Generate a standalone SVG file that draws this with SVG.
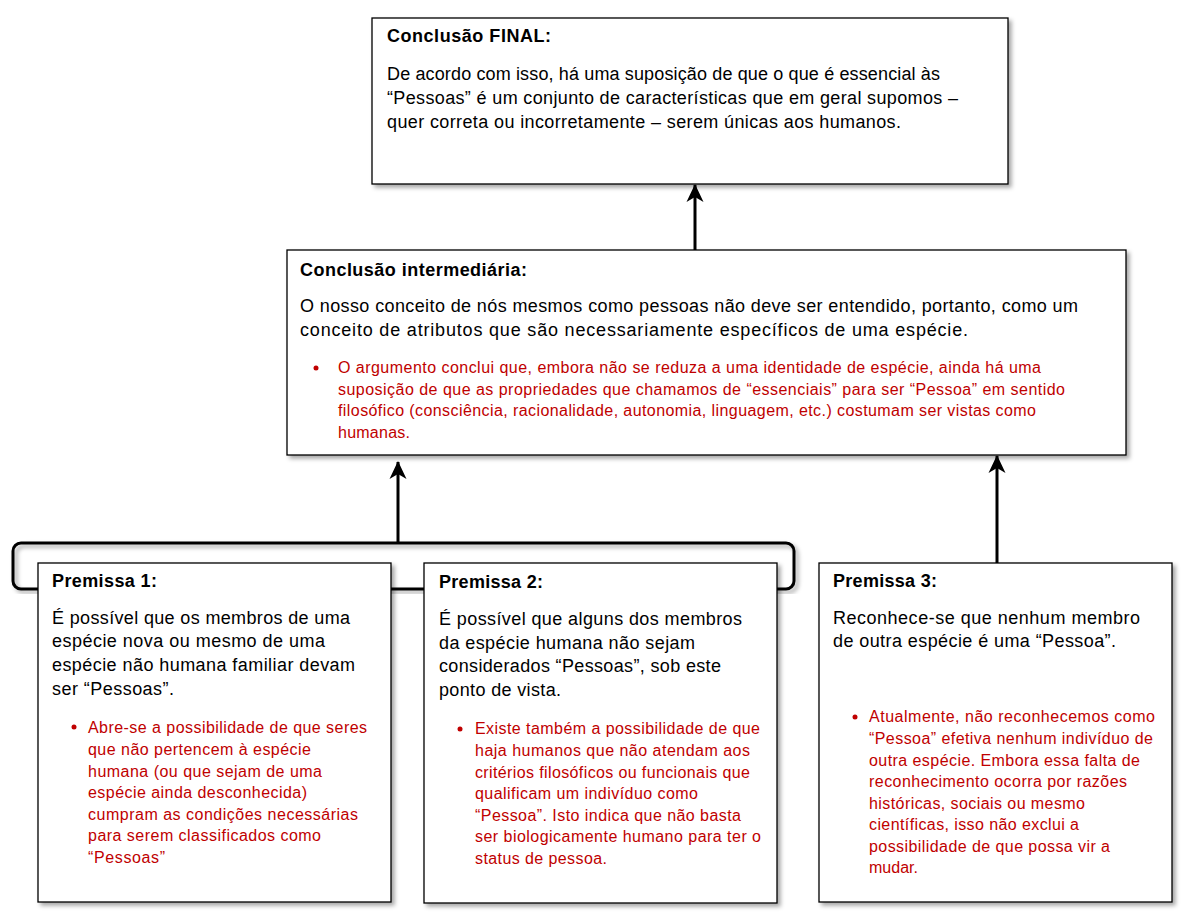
<svg xmlns="http://www.w3.org/2000/svg" width="1191" height="918" viewBox="0 0 1191 918">
<style>
text { font-family: "Liberation Sans", Arial, sans-serif; }
.box { fill: #ffffff; stroke: #000000; stroke-width: 1.3; filter: url(#shadow); }
.title { font-size: 18px; font-weight: bold; fill: #000000; }
.body { font-size: 18px; fill: #000000; }
.red { font-size: 16px; fill: #C00000; }
.dot { fill: #C00000; }
.conn { fill: none; stroke: #000000; stroke-width: 3; }
</style>
<defs>
<filter id="shadow" x="-10%" y="-10%" width="120%" height="120%">
<feDropShadow dx="3" dy="3" stdDeviation="2" flood-color="#000000" flood-opacity="0.35"/>
</filter>
<marker id="arrow" viewBox="0 0 18 18" refX="17" refY="9" markerWidth="18" markerHeight="18" markerUnits="userSpaceOnUse" orient="auto">
<path d="M0,0.5 L18,9 L0,17.5 L5,9 Z" fill="#000000"/>
</marker>
</defs>
<rect width="1191" height="918" fill="#ffffff"/>
<g id="connectors">
<rect class="conn" x="13" y="543" width="781" height="46" rx="8" ry="8" filter="url(#shadow)"/>
<line class="conn" x1="398" y1="543" x2="398" y2="462" marker-end="url(#arrow)"/>
<line class="conn" x1="695" y1="250" x2="695" y2="185" marker-end="url(#arrow)"/>
<line class="conn" x1="997" y1="563" x2="997" y2="456" marker-end="url(#arrow)"/>
</g>
<g id="conclusao-final">
<rect class="box" x="372" y="18" width="636" height="166"/>
<text class="title" x="387" y="42" textLength="164">Conclusão FINAL:</text>
<text class="body" x="387" y="80" textLength="553">De acordo com isso, há uma suposição de que o que é essencial às</text>
<text class="body" x="387" y="104" textLength="571">“Pessoas” é um conjunto de características que em geral supomos –</text>
<text class="body" x="387" y="128" textLength="514">quer correta ou incorretamente – serem únicas aos humanos.</text>
</g>
<g id="conclusao-intermediaria">
<rect class="box" x="287" y="250" width="839" height="205"/>
<text class="title" x="300" y="276" textLength="227">Conclusão intermediária:</text>
<text class="body" x="300" y="312" textLength="778">O nosso conceito de nós mesmos como pessoas não deve ser entendido, portanto, como um</text>
<text class="body" x="300" y="336" textLength="668">conceito de atributos que são necessariamente específicos de uma espécie.</text>
<circle class="dot" cx="316" cy="368" r="2.5"/>
<text class="red" x="338" y="373" textLength="703">O argumento conclui que, embora não se reduza a uma identidade de espécie, ainda há uma</text>
<text class="red" x="338" y="395" textLength="727">suposição de que as propriedades que chamamos de “essenciais” para ser “Pessoa” em sentido</text>
<text class="red" x="338" y="416" textLength="698">filosófico (consciência, racionalidade, autonomia, linguagem, etc.) costumam ser vistas como</text>
<text class="red" x="338" y="438" textLength="72">humanas.</text>
</g>
<g id="premissa-1">
<rect class="box" x="38" y="563" width="353" height="339"/>
<text class="title" x="52" y="587" textLength="105">Premissa 1:</text>
<text class="body" x="52" y="624" textLength="298">É possível que os membros de uma</text>
<text class="body" x="52" y="647" textLength="273">espécie nova ou mesmo de uma</text>
<text class="body" x="52" y="671" textLength="303">espécie não humana familiar devam</text>
<text class="body" x="52" y="695" textLength="122">ser “Pessoas”.</text>
<circle class="dot" cx="74" cy="727" r="2.5"/>
<text class="red" x="88" y="733" textLength="279">Abre-se a possibilidade de que seres</text>
<text class="red" x="88" y="755" textLength="223">que não pertencem à espécie</text>
<text class="red" x="88" y="777" textLength="234">humana (ou que sejam de uma</text>
<text class="red" x="88" y="798" textLength="219">espécie ainda desconhecida)</text>
<text class="red" x="88" y="820" textLength="270">cumpram as condições necessárias</text>
<text class="red" x="88" y="841" textLength="233">para serem classificados como</text>
<text class="red" x="88" y="863" textLength="77">“Pessoas”</text>
</g>
<g id="premissa-2">
<rect class="box" x="424" y="563" width="353" height="340"/>
<text class="title" x="439" y="588" textLength="104">Premissa 2:</text>
<text class="body" x="439" y="625" textLength="303">É possível que alguns dos membros</text>
<text class="body" x="439" y="649" textLength="256">da espécie humana não sejam</text>
<text class="body" x="439" y="672" textLength="282">considerados “Pessoas”, sob este</text>
<text class="body" x="439" y="696" textLength="122">ponto de vista.</text>
<circle class="dot" cx="460" cy="729" r="2.5"/>
<text class="red" x="475" y="734" textLength="285">Existe também a possibilidade de que</text>
<text class="red" x="475" y="756" textLength="275">haja humanos que não atendam aos</text>
<text class="red" x="475" y="778" textLength="275">critérios filosóficos ou funcionais que</text>
<text class="red" x="475" y="799" textLength="223">qualificam um indivíduo como</text>
<text class="red" x="475" y="821" textLength="266">“Pessoa”. Isto indica que não basta</text>
<text class="red" x="475" y="842" textLength="286">ser biologicamente humano para ter o</text>
<text class="red" x="475" y="864" textLength="132">status de pessoa.</text>
</g>
<g id="premissa-3">
<rect class="box" x="819" y="563" width="353" height="339"/>
<text class="title" x="833" y="587" textLength="104">Premissa 3:</text>
<text class="body" x="833" y="624" textLength="307">Reconhece-se que nenhum membro</text>
<text class="body" x="833" y="647" textLength="283">de outra espécie é uma “Pessoa”.</text>
<circle class="dot" cx="855" cy="717" r="2.5"/>
<text class="red" x="869" y="722" textLength="286">Atualmente, não reconhecemos como</text>
<text class="red" x="869" y="744" textLength="284">“Pessoa” efetiva nenhum indivíduo de</text>
<text class="red" x="869" y="766" textLength="271">outra espécie. Embora essa falta de</text>
<text class="red" x="869" y="787" textLength="258">reconhecimento ocorra por razões</text>
<text class="red" x="869" y="809" textLength="216">históricas, sociais ou mesmo</text>
<text class="red" x="869" y="830" textLength="210">científicas, isso não exclui a</text>
<text class="red" x="869" y="852" textLength="241">possibilidade de que possa vir a</text>
<text class="red" x="869" y="873" textLength="49">mudar.</text>
</g>
</svg>
